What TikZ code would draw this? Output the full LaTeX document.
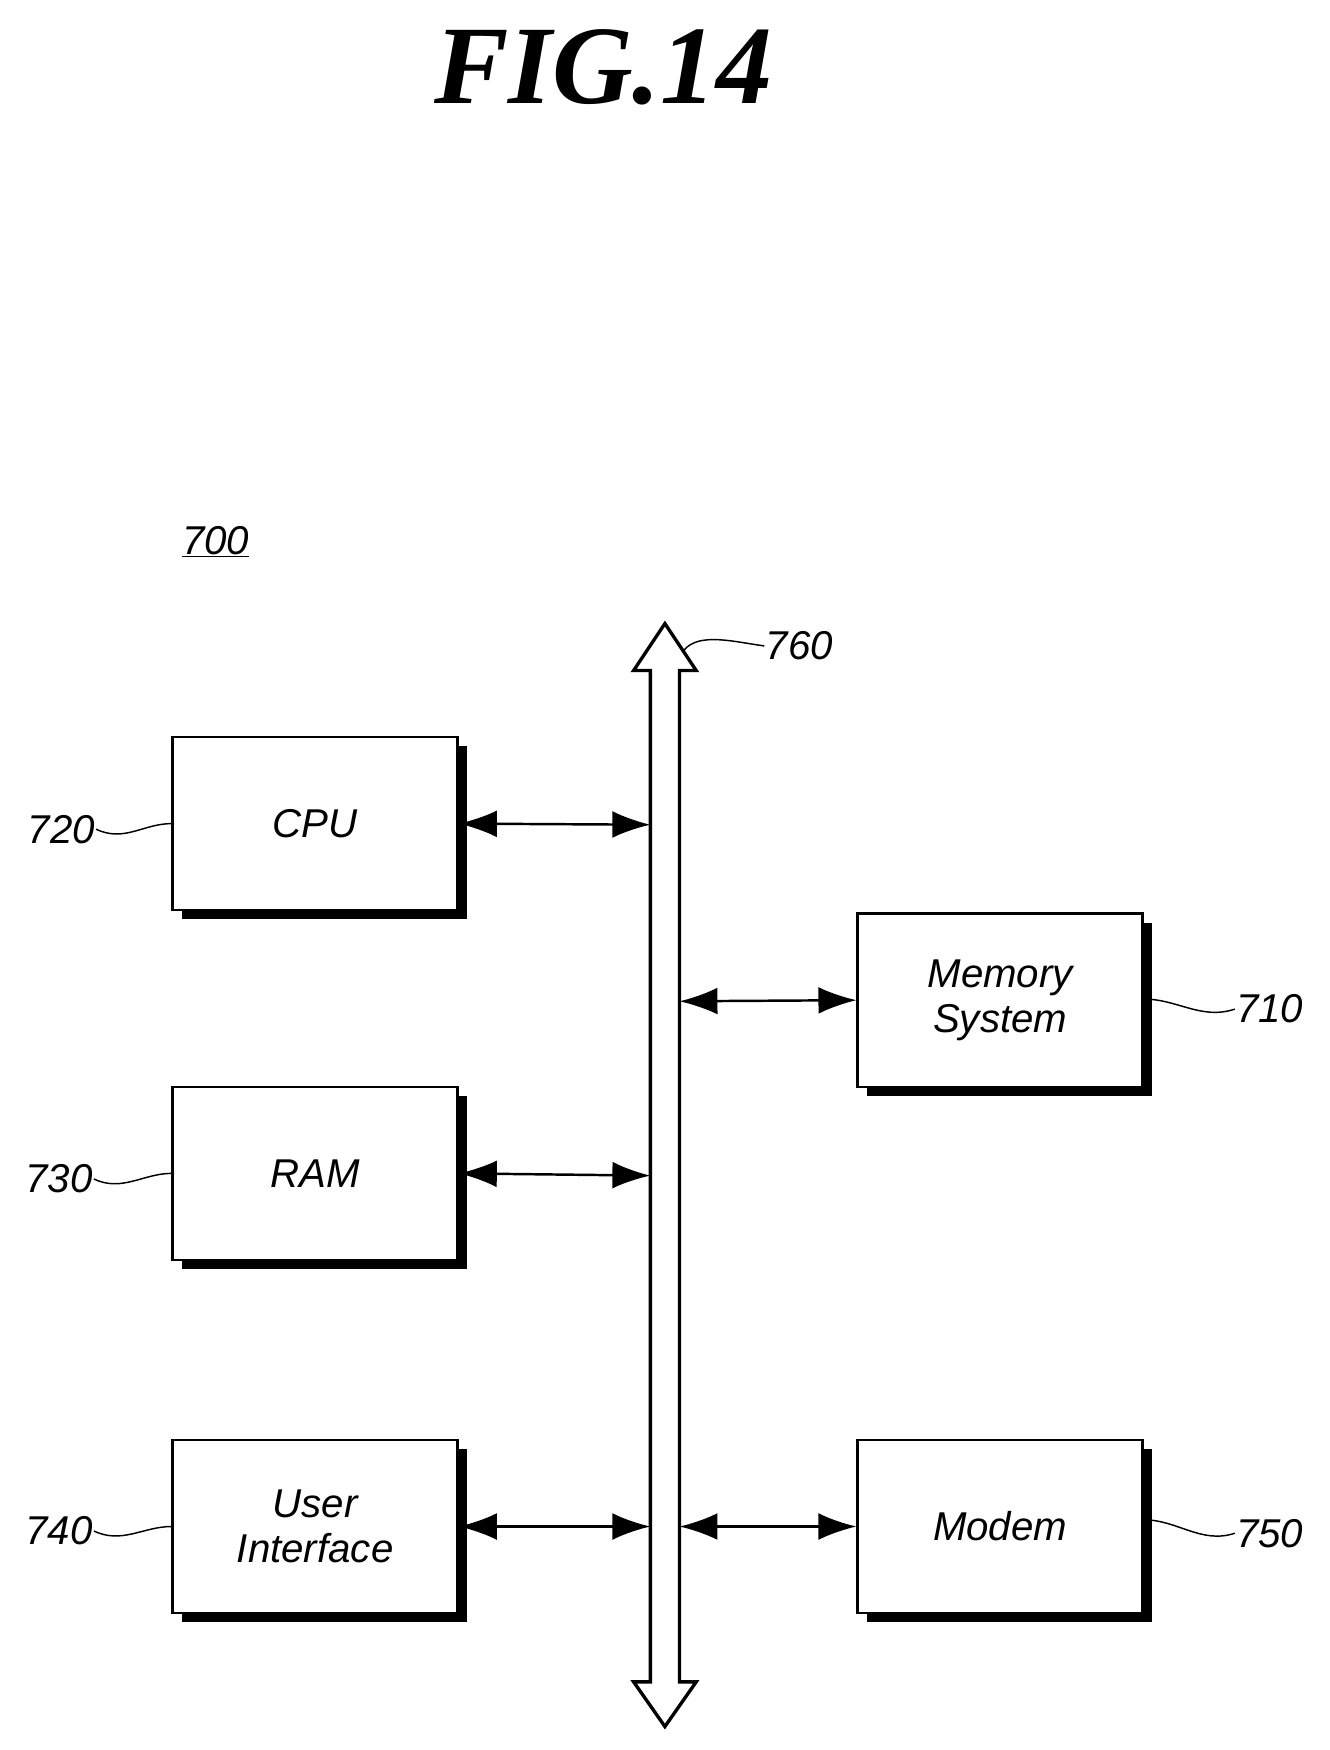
\documentclass[tikz,border=0pt]{standalone}
\usepackage{fontspec}
\setmainfont{Liberation Sans}
\newfontfamily\titlefont{Liberation Serif}
\usetikzlibrary{arrows.meta}
\begin{document}
\begin{tikzpicture}[x=1pt,y=-1pt,
  box/.style={draw,line width=2.2pt,fill=white,minimum width=255pt,minimum height=155pt,inner sep=0pt,font=\itshape\fontsize{36}{40}\selectfont,align=center},
  lbl/.style={font=\itshape\fontsize{36}{40}\selectfont,inner sep=1pt},
  arr/.style={line width=2.2pt,{Latex[length=34pt,width=24pt]}-{Latex[length=34pt,width=24pt]}},
  sq/.style={line width=1.3pt}]
\useasboundingbox (0,0) rectangle (1190,1566);
\node[font=\titlefont\bfseries\itshape\fontsize{100}{100}\selectfont] (title) at (540,60) {FIG.14};
\node[lbl] (n700) at (193,485) {\underline{700}};
% bus
\draw[line width=3pt,fill=white,line join=miter]
 (582,600) -- (567,600) -- (595,558) -- (623,600) -- (608,600) -- (608,1505) -- (623,1505) -- (595,1545) -- (567,1505) -- (582,1505) -- cycle;
\coordinate (b1) at (582,738); \coordinate (b2) at (582,1052); \coordinate (b3) at (582,1366);
\coordinate (c1) at (608,896); \coordinate (c2) at (608,1366);
% boxes
\foreach \n/\x/\y/\t in {cpu/282/737/CPU, ram/282/1050/RAM, ui/282/1366/{User\\Interface}, mem/895/895/{Memory\\System}, modem/895/1366/Modem}{
  \fill (\x-119.5,\y-69.5) rectangle (\x+135.5,\y+85.5);
  \node[box] (\n) at (\x,\y) {\t};
}
\draw[arr] (cpu.east) -- (b1);
\draw[arr] (ram.east) -- (b2);
\draw[arr] (ui.east) -- (b3);
\draw[arr] (c1) -- (mem.west);
\draw[arr] (c2) -- (modem.west);
% labels
\node[lbl,anchor=east] (l720) at (86,742) {720};
\node[lbl,anchor=east] (l730) at (84,1055) {730};
\node[lbl,anchor=east] (l740) at (84,1370) {740};
\node[lbl,anchor=west] (l710) at (1105,903) {710};
\node[lbl,anchor=west] (l750) at (1105,1372) {750};
\node[lbl,anchor=west] (l760) at (684,578) {760};
\foreach \a/\b in {l720/cpu.west, l730/ram.west, l740/ui.west}
  \draw[sq] (\a.east) .. controls +(25,12) and +(-25,0) .. (\b);
\draw[sq] ([yshift=1pt]mem.east) .. controls +(30,0) and +(-30,10) .. (l710.west);
\draw[sq] ([yshift=6pt]modem.east) .. controls +(30,0) and +(-30,10) .. (l750.west);
\draw[sq] (612,582) .. controls (625,565) and (660,575) .. (l760.west);
\end{tikzpicture}
\end{document}
